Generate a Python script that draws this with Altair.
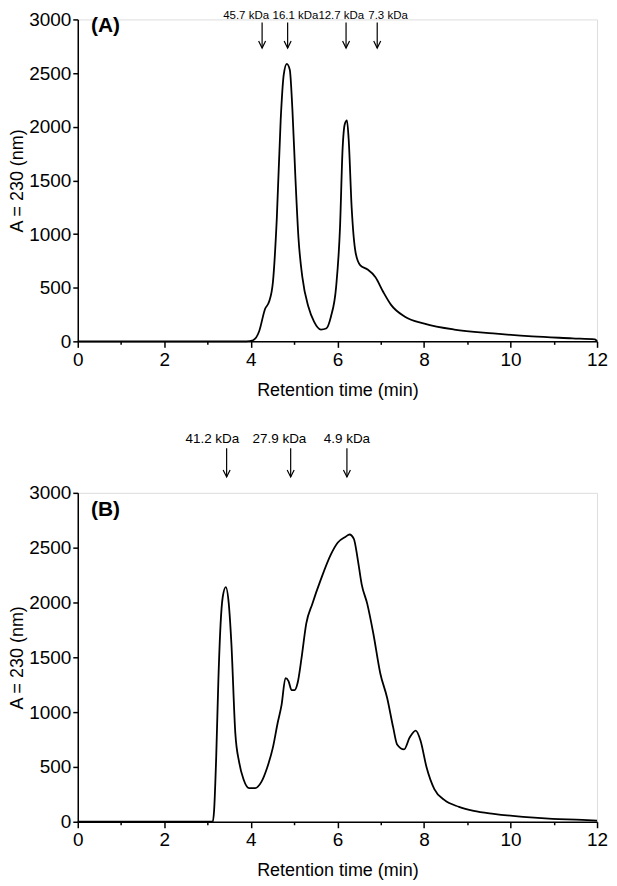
import altair as alt
import pandas as pd

# Panel A chromatogram (retention time min, absorbance)
a_time = [0, 1, 2, 3, 3.9, 4.05, 4.19, 4.33, 4.42, 4.51, 4.6, 4.69, 4.76, 4.83, 4.9, 4.96, 5.03, 5.1, 5.19,
          5.33, 5.46, 5.62, 5.74, 5.85, 5.97, 6.06, 6.12, 6.17, 6.22, 6.26, 6.33, 6.42, 6.53, 6.69, 6.88,
          7.06, 7.24, 7.56, 8.01, 8.7, 9.6, 10.5, 11.43, 11.95, 12.0]
a_abs = [0, 0, 0, 0, 0, 10, 92, 304, 368, 552, 1150, 2070, 2485, 2586, 2530, 2160, 1520, 966, 598,
         322, 184, 110, 120, 230, 506, 1058, 1794, 2024, 2060, 1886, 1242, 828, 708, 672, 598,
         460, 340, 230, 166, 110, 74, 46, 28, 18, 0]

# Panel B chromatogram
b_time = [0, 1, 2, 3, 3.12, 3.15, 3.2, 3.25, 3.3, 3.35, 3.42, 3.49, 3.55, 3.64, 3.73, 3.83, 3.96, 4.1,
          4.24, 4.38, 4.51, 4.62, 4.71, 4.8, 4.87, 4.94, 5.01, 5.08, 5.17, 5.28, 5.42, 5.62, 5.85, 6.01,
          6.19, 6.28, 6.38, 6.47, 6.56, 6.69, 6.83, 6.99, 7.15, 7.29, 7.38, 7.54, 7.67, 7.81, 7.92,
          8.06, 8.24, 8.47, 8.81, 9.15, 9.61, 10.29, 10.97, 11.66, 12.0]
b_abs = [0, 0, 0, 0, 0, 100, 600, 1300, 1800, 2050, 2140, 1987, 1626, 813, 542, 388, 307, 307,
         361, 497, 678, 903, 1066, 1310, 1283, 1201, 1200, 1265, 1490, 1807, 1987, 2213, 2439, 2547,
         2600, 2620, 2580, 2394, 2168, 1987, 1717, 1355, 1129, 858, 705, 660, 768, 831, 741,
         497, 298, 199, 136, 99, 72, 45, 27, 18, 10]

# Molecular-weight markers
a_marker_labels = ["45.7 kDa", "16.1 kDa", "12.7 kDa", "7.3 kDa"]
a_marker_arrow_x = [4.26, 4.85, 6.2, 6.92]
a_marker_label_x = [3.89, 5.03, 6.09, 7.17]
b_marker_labels = ["41.2 kDa", "27.9 kDa", "4.9 kDa"]
b_marker_arrow_x = [3.44, 4.92, 6.22]
b_marker_label_x = [3.11, 4.66, 6.22]

FONT = "Liberation Sans"
W = 521

x_ticks = list(range(0, 13))
y_ticks = list(range(0, 3001, 250))


def xenc():
    return alt.X("t:Q", scale=alt.Scale(domain=[0, 12], nice=False),
                 axis=alt.Axis(title="Retention time (min)", values=x_ticks,
                               labelExpr="datum.value % 2 == 0 ? datum.label : ''",
                               tickSize={"condition": {"test": "datum.value % 2 === 0", "value": 6}, "value": 3},
                               grid=False, domainColor="black", tickColor="black",
                               domainWidth=1.5, tickWidth=1.5, labelFontSize=19,
                               titleFontSize=18, titleFontWeight="normal", labelColor="black",
                               titleColor="black", labelPadding=3, titlePadding=12,
                               labelFlush=False, labelFont=FONT, titleFont=FONT))


def yenc():
    return alt.Y("v:Q", scale=alt.Scale(domain=[0, 3000], nice=False),
                 axis=alt.Axis(title="A = 230 (nm)", values=y_ticks,
                               labelExpr="datum.value % 500 == 0 ? datum.label : ''",
                               tickSize={"condition": {"test": "datum.value % 500 === 0", "value": 5}, "value": 3},
                               format="d", grid=False, domainColor="black", tickColor="black",
                               domainWidth=1.5, tickWidth=1.5, labelFontSize=19,
                               titleFontSize=18, titleFontWeight="normal", labelColor="black",
                               titleColor="black", labelPadding=2, titlePadding=2,
                               labelFlush=False, labelFont=FONT, titleFont=FONT))


def panel(times, vals, arrow_x, label_x, labels, arrow_top, arrow_bot, label_y, label_size,
          panel_name, panel_y, h):
    df = pd.DataFrame({"t": times, "v": vals})
    line = alt.Chart(df).mark_line(color="black", strokeWidth=1.8, interpolate="monotone").encode(
        x=xenc(), y=yenc())
    arr = pd.DataFrame({"t": arrow_x, "v": [arrow_top] * len(arrow_x), "v2": [arrow_bot] * len(arrow_x)})
    shafts = alt.Chart(arr).mark_rule(color="black", strokeWidth=1.2, clip=False).encode(
        x="t:Q", y="v:Q", y2="v2:Q")
    heads = alt.Chart(arr).mark_point(shape="M -0.5 -1 L 0 0 L 0.5 -1", filled=False, color="black",
                                      strokeWidth=1.2, size=196, opacity=1, clip=False).encode(
        x="t:Q", y="v2:Q")
    lab = pd.DataFrame({"t": label_x, "v": [label_y] * len(label_x), "txt": labels})
    texts = alt.Chart(lab).mark_text(font=FONT, fontSize=label_size, color="black",
                                     baseline="middle", align="center", clip=False).encode(
        x="t:Q", y="v:Q", text="txt:N")
    pl = pd.DataFrame({"t": [0.64], "v": [panel_y], "txt": [panel_name]})
    ptext = alt.Chart(pl).mark_text(font=FONT, fontSize=21, fontWeight="bold", color="black",
                                    baseline="middle", align="center").encode(
        x="t:Q", y="v:Q", text="txt:N")
    return alt.layer(line, shafts, heads, texts, ptext).properties(width=W, height=h)


top = panel(a_time, a_abs, a_marker_arrow_x, a_marker_label_x, a_marker_labels,
            2972, 2733, 3030, 11.5, "(A)", 2935, 323)
bottom = panel(b_time, b_abs, b_marker_arrow_x, b_marker_label_x, b_marker_labels,
               3407, 3145, 3488, 13.5, "(B)", 2846, 330)

chart = alt.vconcat(top, bottom, spacing=31).configure_view(stroke=None).configure(
    padding={"left": 0, "top": 0, "right": 0, "bottom": 0}, background="white")

chart.save("out.html", embed_options={"renderer": "svg", "actions": False})
